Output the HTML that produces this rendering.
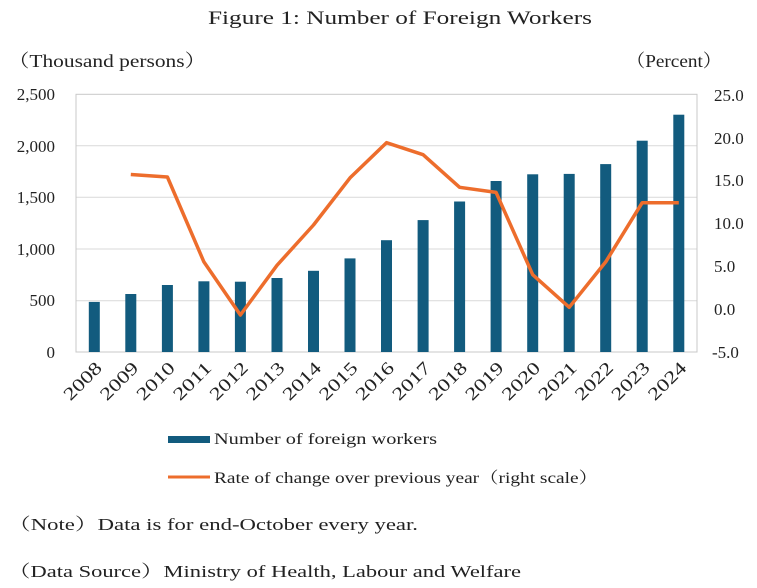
<!DOCTYPE html>
<html><head><meta charset="utf-8"><style>
body{margin:0;background:#fff;}
svg text{font-family:"Liberation Serif","Noto Serif CJK SC",serif;fill:#222;}
</style></head><body>
<svg width="757" height="583" viewBox="0 0 757 583" xmlns="http://www.w3.org/2000/svg">
<rect width="757" height="583" fill="#fff"/>
<text x="208" y="24" font-size="19" textLength="384" lengthAdjust="spacingAndGlyphs">Figure 1: Number of Foreign Workers</text>
<text x="8" y="67" font-size="18" textLength="198" lengthAdjust="spacingAndGlyphs">（Thousand persons）</text>
<text x="626" y="67" font-size="18" textLength="96" lengthAdjust="spacingAndGlyphs">（Percent）</text>
<g stroke="#d9d9d9" stroke-width="1">
<line x1="76" y1="145.7" x2="697" y2="145.7"/>
<line x1="76" y1="197.3" x2="697" y2="197.3"/>
<line x1="76" y1="249" x2="697" y2="249"/>
<line x1="76" y1="300.7" x2="697" y2="300.7"/>
</g>
<rect x="76" y="94.3" width="621" height="257.7" fill="none" stroke="#c8c8c8" stroke-width="1"/>
<g font-size="17" text-anchor="end">
<text x="55" y="100">2,500</text><text x="55" y="152">2,000</text><text x="55" y="203">1,500</text><text x="55" y="255">1,000</text><text x="55" y="306">500</text><text x="55" y="358">0</text>
</g>
<g font-size="17" text-anchor="start">
<text x="714" y="101">25.0</text><text x="714" y="144">20.0</text><text x="714" y="186">15.0</text><text x="714" y="229">10.0</text><text x="714" y="272">5.0</text><text x="714" y="315">0.0</text><text x="712" y="358">-5.0</text>
</g>
<g fill="#125b7e">
<rect x="88.8" y="301.9" width="11" height="50.1"/>
<rect x="125.3" y="294.0" width="11" height="58"/>
<rect x="161.9" y="285.0" width="11" height="67"/>
<rect x="198.4" y="281.3" width="11" height="70.7"/>
<rect x="234.9" y="281.7" width="11" height="70.3"/>
<rect x="271.5" y="278.0" width="11" height="74"/>
<rect x="308" y="270.8" width="11" height="81.2"/>
<rect x="344.5" y="258.4" width="11" height="93.6"/>
<rect x="381" y="240.2" width="11" height="111.8"/>
<rect x="417.6" y="220.1" width="11" height="131.9"/>
<rect x="454.1" y="201.5" width="11" height="150.5"/>
<rect x="490.6" y="181.0" width="11" height="171"/>
<rect x="527.2" y="174.3" width="11" height="177.7"/>
<rect x="563.7" y="173.9" width="11" height="178.1"/>
<rect x="600.2" y="164.1" width="11" height="187.9"/>
<rect x="636.7" y="140.7" width="11" height="211.3"/>
<rect x="673.3" y="114.7" width="11" height="237.3"/>
</g>
<polyline fill="none" stroke="#ed6d2c" stroke-width="3.5" stroke-linejoin="round" points="130.8,174.5 167.4,177 203.9,261.9 240.4,315 277,265.3 313.5,225 350,177.9 386.5,142.7 423.1,154.7 459.6,187.3 496.1,192.4 532.7,274.7 569.2,307.3 605.7,261.9 642.2,202.7 678.8,202.7"/>
<g font-size="18" text-anchor="end">
<text transform="translate(103,369) rotate(-45)" textLength="46" lengthAdjust="spacingAndGlyphs">2008</text>
<text transform="translate(139.5,369) rotate(-45)" textLength="46" lengthAdjust="spacingAndGlyphs">2009</text>
<text transform="translate(176,369) rotate(-45)" textLength="46" lengthAdjust="spacingAndGlyphs">2010</text>
<text transform="translate(212.6,369) rotate(-45)" textLength="46" lengthAdjust="spacingAndGlyphs">2011</text>
<text transform="translate(249.1,369) rotate(-45)" textLength="46" lengthAdjust="spacingAndGlyphs">2012</text>
<text transform="translate(285.7,369) rotate(-45)" textLength="46" lengthAdjust="spacingAndGlyphs">2013</text>
<text transform="translate(322.2,369) rotate(-45)" textLength="46" lengthAdjust="spacingAndGlyphs">2014</text>
<text transform="translate(358.7,369) rotate(-45)" textLength="46" lengthAdjust="spacingAndGlyphs">2015</text>
<text transform="translate(395.2,369) rotate(-45)" textLength="46" lengthAdjust="spacingAndGlyphs">2016</text>
<text transform="translate(431.8,369) rotate(-45)" textLength="46" lengthAdjust="spacingAndGlyphs">2017</text>
<text transform="translate(468.3,369) rotate(-45)" textLength="46" lengthAdjust="spacingAndGlyphs">2018</text>
<text transform="translate(504.8,369) rotate(-45)" textLength="46" lengthAdjust="spacingAndGlyphs">2019</text>
<text transform="translate(541.4,369) rotate(-45)" textLength="46" lengthAdjust="spacingAndGlyphs">2020</text>
<text transform="translate(577.9,369) rotate(-45)" textLength="46" lengthAdjust="spacingAndGlyphs">2021</text>
<text transform="translate(614.4,369) rotate(-45)" textLength="46" lengthAdjust="spacingAndGlyphs">2022</text>
<text transform="translate(650.9,369) rotate(-45)" textLength="46" lengthAdjust="spacingAndGlyphs">2023</text>
<text transform="translate(687.5,369) rotate(-45)" textLength="46" lengthAdjust="spacingAndGlyphs">2024</text>
</g>
<rect x="168" y="436" width="42" height="7" fill="#125b7e"/>
<text x="214" y="444" font-size="16" textLength="223" lengthAdjust="spacingAndGlyphs">Number of foreign workers</text>
<line x1="168" y1="477" x2="210" y2="477" stroke="#ed6d2c" stroke-width="3"/>
<text x="214" y="483" font-size="16" textLength="384" lengthAdjust="spacingAndGlyphs">Rate of change over previous year（right scale）</text>
<text x="8" y="530" font-size="17" textLength="410" lengthAdjust="spacingAndGlyphs">（Note）Data is for end-October every year.</text>
<text x="8" y="577" font-size="17" textLength="513" lengthAdjust="spacingAndGlyphs">（Data Source）Ministry of Health, Labour and Welfare</text>
</svg>
</body></html>
